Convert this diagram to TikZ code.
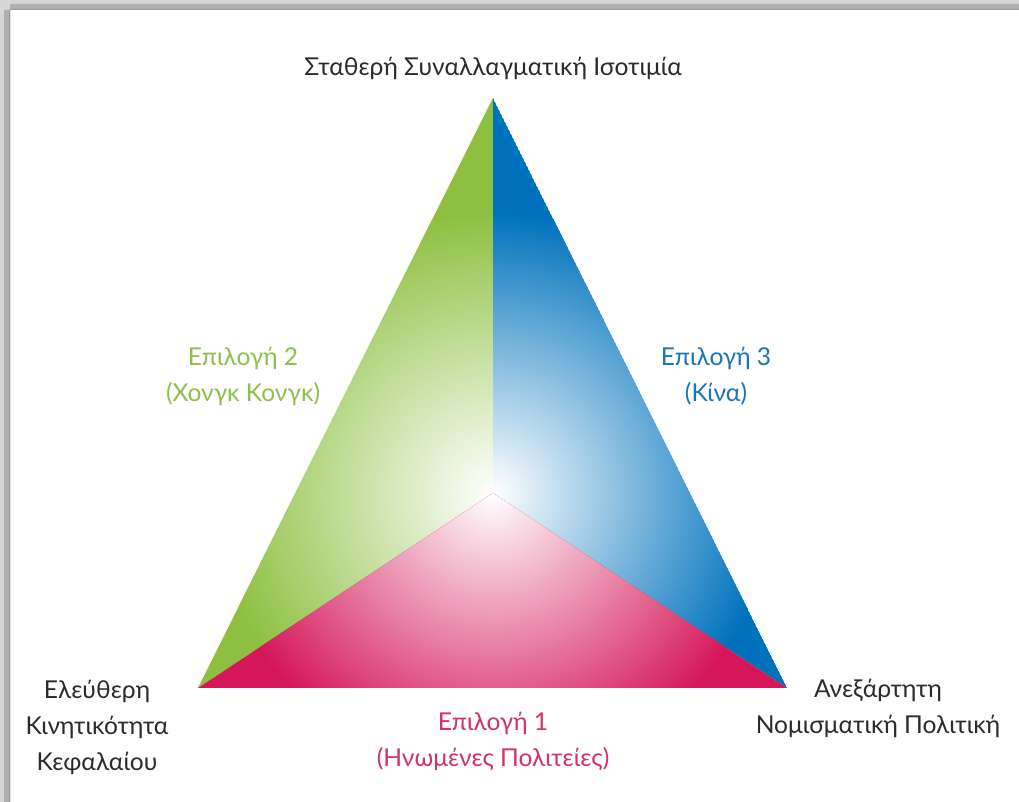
\documentclass[tikz,border=0pt]{standalone}
\usepackage{fontspec}
\setmainfont{Lato}
\usetikzlibrary{positioning}
\definecolor{optgreen}{HTML}{8DC041}
\definecolor{optblue}{HTML}{0072BC}
\definecolor{optred}{HTML}{D5175A}
\definecolor{txtgreen}{HTML}{8DBF4B}
\definecolor{txtblue}{HTML}{1C74B6}
\definecolor{txtred}{HTML}{D1326A}
\definecolor{txtdark}{HTML}{2B2B2B}

\begin{document}
\begin{tikzpicture}[
	x = 0.02cm, y = 0.02cm,
	every node/.style = {align = center, inner sep = 0pt, font = \fontsize{14}{20.5}\selectfont},
	corner/.style = {text = txtdark},
	choice/.style = {text = #1}
	]
	\useasboundingbox (0,0) rectangle (1019,802);
	\fill[white] (0,0) rectangle (1019,802);
	% frame shadow
	\fill[black!16] (0,0) rectangle (10,802) (0,792) rectangle (1019,802);
	\fill[black!31] (4,0) rectangle (10,792) (10,792) rectangle (1019,798);
	\fill[black!40] (9,0) rectangle (10,792) (10,792) rectangle (1019,793);

	\coordinate (apex) at (493,704);
	\coordinate (capital) at (198,114);
	\coordinate (policy) at (787,114);
	\coordinate (mid) at (493,309);

	\begin{scope}
		\clip (apex) -- (mid) -- (capital) -- cycle;
		\fill[optgreen] (apex) -- (mid) -- (capital) -- cycle;
		\shade[inner color = white, outer color = optgreen] (mid) circle (5.6cm);
	\end{scope}
	\begin{scope}
		\clip (apex) -- (mid) -- (policy) -- cycle;
		\fill[optblue] (apex) -- (mid) -- (policy) -- cycle;
		\shade[inner color = white, outer color = optblue] (mid) circle (5.6cm);
	\end{scope}
	\begin{scope}
		\clip (capital) -- (mid) -- (policy) -- cycle;
		\fill[optred] (capital) -- (mid) -- (policy) -- cycle;
		\shade[inner color = white, outer color = optred] (mid) circle (5.6cm);
	\end{scope}

	\node[corner] (fixedrate) at (493,734) {Σταθερή Συναλλαγματική Ισοτιμία};
	\node[corner] (mobility) at (97,75) {Ελεύθερη\\Κινητικότητα\\Κεφαλαίου};
	\node[corner] (monetary) at (878,94) {Ανεξάρτητη\\Νομισματική Πολιτική};
	\node[choice = txtgreen] (hongkong) at (243,426) {Επιλογή 2\\(Χονγκ Κονγκ)};
	\node[choice = txtblue] (china) at (716,426) {Επιλογή 3\\(Κίνα)};
	\node[choice = txtred] (usa) at (493,61) {Επιλογή 1\\(Ηνωμένες Πολιτείες)};
\end{tikzpicture}
\end{document}
